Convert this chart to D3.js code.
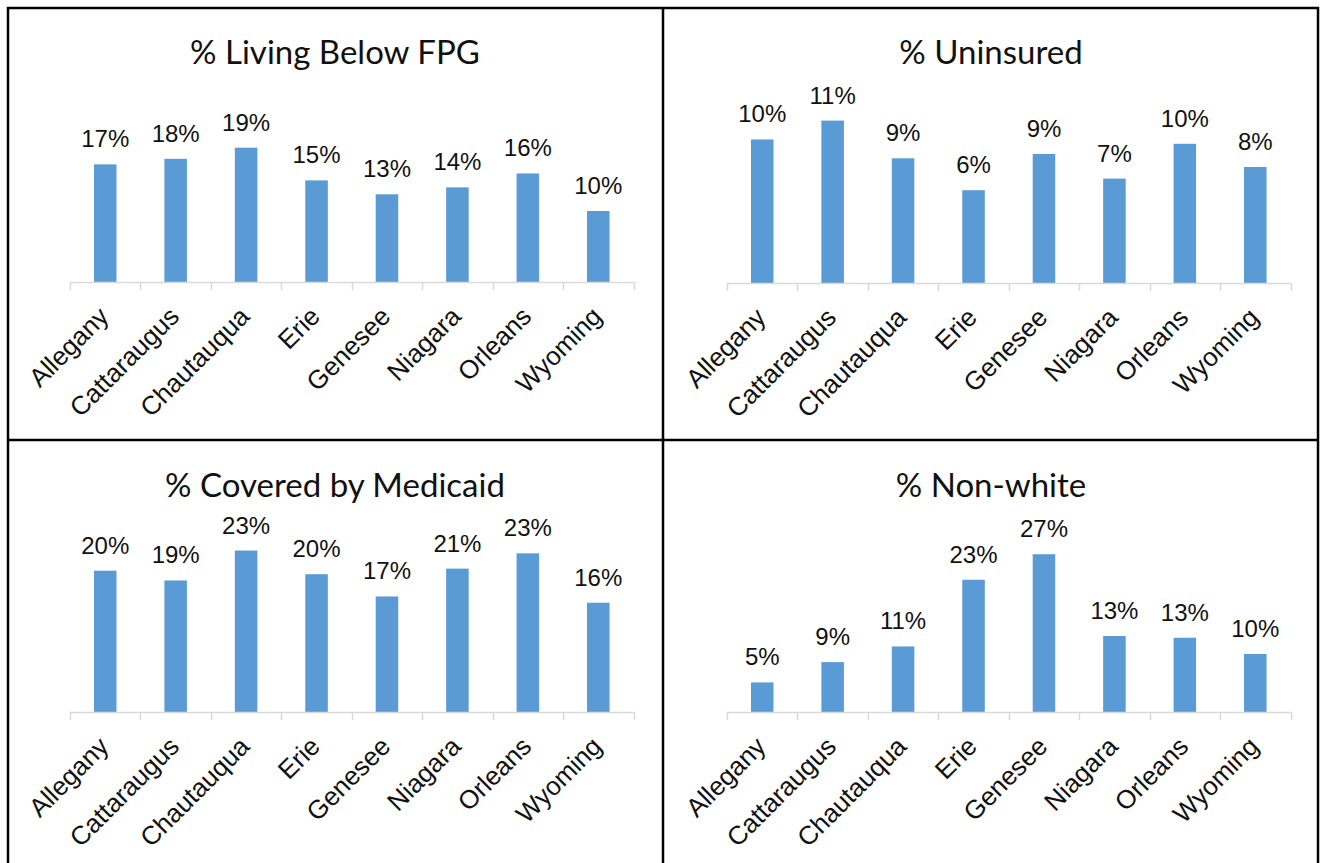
<!DOCTYPE html>
<html>
<head>
<meta charset="utf-8">
<script src="https://cdn.jsdelivr.net/npm/d3@7"></script>
<style>
  body { margin: 0; background: #fff; }
  svg { display: block; }
</style>
</head>
<body>
<div id="chart"></div>
<script>
// counties on every panel
var counties = ["Allegany", "Cattaraugus", "Chautauqua", "Erie", "Genesee", "Niagara", "Orleans", "Wyoming"];

// one array per panel
var belowFpg  = [0.169, 0.177, 0.193, 0.146, 0.126, 0.136, 0.156, 0.102];
var uninsured = [0.099, 0.112, 0.086, 0.064, 0.089, 0.072, 0.096, 0.080];
var medicaid  = [0.203, 0.189, 0.232, 0.198, 0.166, 0.206, 0.228, 0.157];
var nonWhite  = [0.051, 0.086, 0.113, 0.228, 0.272, 0.131, 0.128, 0.100];

var titles = ["% Living Below FPG", "% Uninsured", "% Covered by Medicaid", "% Non-white"];
var yMax = [0.25, 0.12, 0.25, 0.30];

var width = 1323, height = 863;

var panels = [
    { title: titles[0], values: belowFpg,  max: yMax[0], x0: 70,  base: 282, cx: 335, ty: 64 },
    { title: titles[1], values: uninsured, max: yMax[1], x0: 727, base: 283, cx: 991, ty: 64 },
    { title: titles[2], values: medicaid,  max: yMax[2], x0: 70,  base: 712, cx: 335, ty: 497 },
    { title: titles[3], values: nonWhite,  max: yMax[3], x0: 727, base: 712, cx: 991, ty: 497 }
];

var svg = d3.select("#chart").append("svg")
    .attr("width", width)
    .attr("height", height);

var fmt = d3.format(".0%");
var plotW = 563.5, plotH = 174;

panels.forEach(function (p) {
    var x = d3.scaleBand()
        .domain(counties)
        .range([p.x0, p.x0 + plotW]);
    var y = d3.scaleLinear()
        .domain([0, p.max])
        .range([p.base, p.base - plotH]);

    var g = svg.append("g");
    var barW = x.bandwidth() * 0.32;

    g.selectAll("rect")
        .data(p.values)
        .enter().append("rect")
        .attr("x", (d, i) => x(counties[i]) + (x.bandwidth() - barW) / 2)
        .attr("y", d => y(d))
        .attr("width", barW)
        .attr("height", d => p.base - y(d))
        .style("fill", "#5b9bd5");

    // axis line + ticks at band edges
    var edges = counties.map(c => x(c)).concat([p.x0 + plotW]);
    g.append("line")
        .attr("x1", p.x0).attr("x2", p.x0 + plotW)
        .attr("y1", p.base + 0.5).attr("y2", p.base + 0.5)
        .style("stroke", "#d9d9d9").style("stroke-width", 1.5);
    g.selectAll("line.tick")
        .data(edges)
        .enter().append("line")
        .attr("class", "tick")
        .attr("x1", d => Math.round(d) + 0.5).attr("x2", d => Math.round(d) + 0.5)
        .attr("y1", p.base).attr("y2", p.base + 8)
        .style("stroke", "#d9d9d9").style("stroke-width", 1.5);

    // data labels
    g.selectAll("text.val")
        .data(p.values)
        .enter().append("text")
        .attr("class", "val")
        .attr("x", (d, i) => x(counties[i]) + x.bandwidth() / 2)
        .attr("y", d => y(d) - 17)
        .text(d => fmt(d))
        .style("text-anchor", "middle")
        .style("font-family", "'Liberation Sans', Arial, sans-serif")
        .style("font-size", "24px")
        .style("fill", "#111");

    // category labels, rotated
    g.selectAll("text.cat")
        .data(counties)
        .enter().append("text")
        .attr("class", "cat")
        .attr("transform", d => "translate(" + (x(d) + x.bandwidth() / 2 + 5) + "," + (p.base + 36) + ") rotate(-45)")
        .text(d => d)
        .style("text-anchor", "end")
        .style("font-family", "'Liberation Sans', Arial, sans-serif")
        .style("font-size", "26px")
        .style("fill", "#111");

    g.append("text")
        .attr("x", p.cx)
        .attr("y", p.ty)
        .text(p.title)
        .style("text-anchor", "middle")
        .style("font-family", "Lato, 'Open Sans', sans-serif")
        .style("font-size", "33px")
        .style("fill", "#111");
});

// panel borders
svg.append("rect")
    .attr("x", 8).attr("y", 8)
    .attr("width", 1310).attr("height", 870)
    .style("fill", "none").style("stroke", "#000").style("stroke-width", 2.5);
svg.append("line")
    .attr("x1", 663).attr("x2", 663).attr("y1", 8).attr("y2", 870)
    .style("stroke", "#000").style("stroke-width", 2.5);
svg.append("line")
    .attr("x1", 8).attr("x2", 1318).attr("y1", 440).attr("y2", 440)
    .style("stroke", "#000").style("stroke-width", 2.5);
</script>
</body>
</html>
